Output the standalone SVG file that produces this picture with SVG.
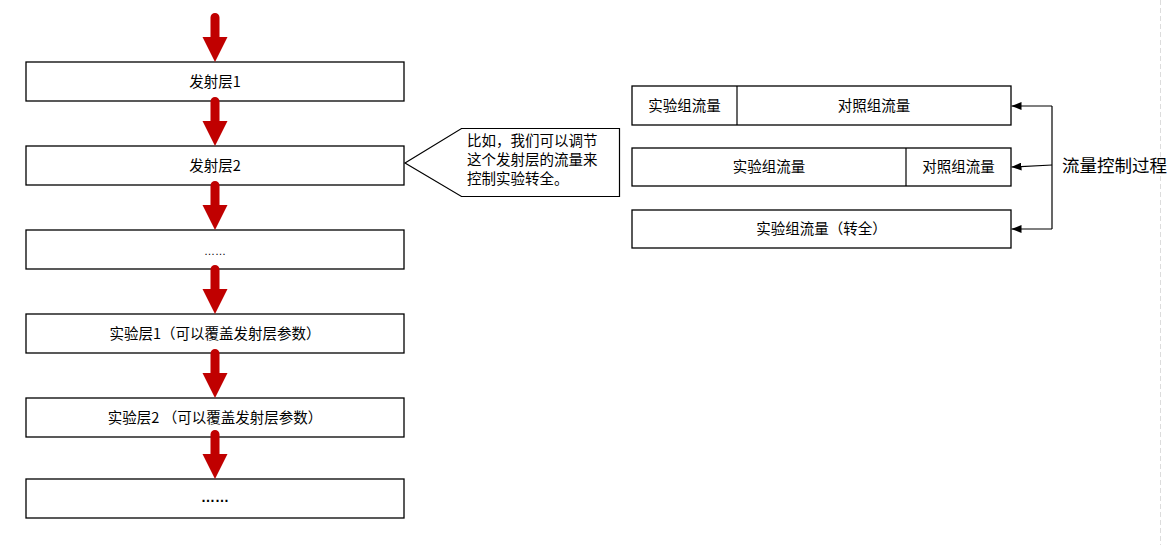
<svg xmlns="http://www.w3.org/2000/svg" width="1169" height="545" viewBox="0 0 1169 545">
<defs>
<style>
.box{fill:#fff;stroke:#000;stroke-width:1.3}
.t{font-family:"Noto Sans CJK SC","Liberation Sans",sans-serif;font-size:14.5px;fill:#000;text-anchor:middle}
.tl{font-family:"Noto Sans CJK SC","Liberation Sans",sans-serif;font-size:14.5px;fill:#000}
.dots{font-family:"Liberation Sans",sans-serif;fill:#000;text-anchor:middle}
.red{fill:#c00000}
.con{stroke:#000;stroke-width:1.2;fill:none}
</style>
<marker id="ah" viewBox="0 0 10 8" refX="10" refY="4" markerWidth="10" markerHeight="8" markerUnits="userSpaceOnUse" orient="auto">
<path d="M0,0 L10,4 L0,8 Z" fill="#000"/>
</marker>
<g id="redArrow">
<path d="M210.5,49 L210.5,4.5 A4.5,4.5 0 0 1 219.5,4.5 L219.5,24 L227.5,24 L215,49 L202.5,24 L210.5,24 Z"/>
</g>
</defs>
<rect width="1169" height="545" fill="#fff"/>
<line x1="1160.5" y1="0" x2="1160.5" y2="545" stroke="#dcdcdc" stroke-width="1" stroke-dasharray="5,3"/>

<g id="n1"><rect class="box" x="26" y="62" width="378" height="39"/><text class="t" x="215" y="87">发射层1</text></g>
<g id="n2"><rect class="box" x="26" y="146" width="378" height="39"/><text class="t" x="215" y="171">发射层2</text></g>
<g id="n3"><rect class="box" x="26" y="230" width="378" height="39"/><text class="dots" x="215" y="255" font-size="11">……</text></g>
<g id="n4"><rect class="box" x="26" y="314" width="378" height="39"/><text class="t" x="215" y="339">实验层1（可以覆盖发射层参数）</text></g>
<g id="n5"><rect class="box" x="26" y="398" width="378" height="39"/><text class="t" x="215" y="423">实验层2 （可以覆盖发射层参数）</text></g>
<g id="n6"><rect class="box" x="26" y="479" width="378" height="39"/><text class="dots" x="215" y="502" font-size="14" font-weight="bold">……</text></g>

<g id="callout">
<path d="M405,163 L461.5,128.5 L619.5,128.5 L619.5,196.5 L461.5,196.5 Z" fill="#fff" stroke="#000" stroke-width="1.2"/>
<text class="tl" x="467" y="146">比如，我们可以调节</text>
<text class="tl" x="467" y="165">这个发射层的流量来</text>
<text class="tl" x="467" y="184">控制实验转全。</text>
</g>

<g id="rA"><rect class="box" x="632" y="86" width="379" height="39"/><line x1="737" y1="86" x2="737" y2="125" stroke="#000" stroke-width="1.2"/>
<text class="t" x="684.5" y="110.5">实验组流量</text><text class="t" x="874" y="110.5">对照组流量</text></g>
<g id="rB"><rect class="box" x="632" y="148" width="379" height="38"/><line x1="906" y1="148" x2="906" y2="186" stroke="#000" stroke-width="1.2"/>
<text class="t" x="769" y="172">实验组流量</text><text class="t" x="958.5" y="172">对照组流量</text></g>
<g id="rC"><rect class="box" x="632" y="210" width="379" height="38"/>
<text class="t" x="821.5" y="234">实验组流量（转全）</text></g>

<g id="label"><text font-family="'Noto Sans CJK SC','Liberation Sans',sans-serif" font-size="17.5" x="1062" y="172">流量控制过程</text></g>

<g id="connectors">
<g class="red">
<use href="#redArrow" transform="translate(0,13)"/>
<use href="#redArrow" transform="translate(0,97)"/>
<use href="#redArrow" transform="translate(0,181)"/>
<use href="#redArrow" transform="translate(0,265)"/>
<use href="#redArrow" transform="translate(0,349)"/>
<use href="#redArrow" transform="translate(0,430)"/>
</g>
<path class="con" d="M1052,229 L1052,106"/>
<path class="con" d="M1052,106 L1011.5,106" marker-end="url(#ah)"/>
<path class="con" d="M1052,165 L1011.5,167" marker-end="url(#ah)"/>
<path class="con" d="M1052,229 L1011.5,229" marker-end="url(#ah)"/>
</g>
</svg>
